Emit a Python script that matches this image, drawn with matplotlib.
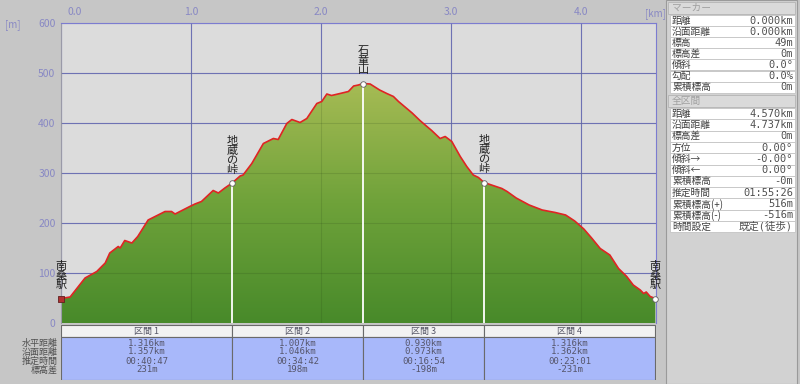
import numpy as np
import matplotlib.pyplot as plt
from matplotlib.colors import LinearSegmentedColormap, Normalize
from matplotlib.patches import Rectangle
from matplotlib.transforms import blended_transform_factory, ScaledTranslation

plt.rcParams['font.family'] = ['Noto Sans CJK JP', 'DejaVu Sans']

# elevation profile (horizontal distance km, elevation m)
dist_km = [0.00, 0.07, 0.185, 0.275, 0.34, 0.375, 0.44, 0.455, 0.49, 0.545,
           0.59, 0.67, 0.80, 0.85, 0.877, 0.99, 1.03, 1.08, 1.17, 1.21,
           1.26, 1.316, 1.377, 1.40, 1.467, 1.556, 1.633, 1.67, 1.736, 1.775,
           1.838, 1.89, 1.967, 2.005, 2.044, 2.08, 2.146, 2.21, 2.25, 2.287,
           2.323, 2.377, 2.45, 2.505, 2.556, 2.595, 2.70, 2.76, 2.80, 2.85,
           2.915, 2.954, 3.005, 3.07, 3.12, 3.17, 3.21, 3.253, 3.31, 3.39,
           3.43, 3.50, 3.60, 3.70, 3.80, 3.88, 3.95, 4.02, 4.08, 4.146,
           4.22, 4.287, 4.35, 4.40, 4.454, 4.48, 4.50, 4.53, 4.57]
elev_m = [49, 52, 90, 103, 120, 140, 153, 150, 165, 160,
          173, 206, 223, 223, 218, 233, 238, 243, 265, 260,
          270, 280, 294, 296, 319, 359, 369, 367, 399, 407,
          401, 409, 439, 443, 458, 455, 459, 463, 474, 476,
          479, 478, 466, 459, 453, 443, 420, 405, 396, 385,
          369, 373, 363, 333, 313, 296, 291, 281, 276, 269,
          263, 250, 236, 226, 221, 216, 204, 188, 170, 149,
          136, 109, 93, 76, 66, 59, 62, 53, 49]

point_km = [0.0, 1.316, 2.323, 3.253, 4.570]
point_names = ['南桑駅', '地蔵の峠', '石童山', '地蔵の峠', '南桑駅']

seg_names = ['区間 1', '区間 2', '区間 3', '区間 4']
seg_horiz = ['1.316km', '1.007km', '0.930km', '1.316km']
seg_surface = ['1.357km', '1.046km', '0.973km', '1.362km']
seg_time = ['00:40:47', '00:34:42', '00:16:54', '00:23:01']
seg_diff = ['231m', '198m', '-198m', '-231m']
row_labels = ['水平距離', '沿面距離', '推定時間', '標高差']

marker_labels = ['距離', '沿面距離', '標高', '標高差', '傾斜', '勾配', '累積標高']
marker_values = ['0.000km', '0.000km', '49m', '0m', '0.0°', '0.0%', '0m']
total_labels = ['距離', '沿面距離', '標高差', '方位', '傾斜→', '傾斜←', '累積標高',
                '推定時間', '累積標高(+)', '累積標高(-)', '時間設定']
total_values = ['4.570km', '4.737km', '0m', '0.00°', '-0.00°', '0.00°', '-0m',
                '01:55:26', '516m', '-516m', '既定(徒歩)']

xmax = 4.575
grid_col = '#7c7cd0'
tick_col = '#8888c4'

fig = plt.figure(figsize=(8, 3.84), dpi=100, facecolor='#c6c6c6')

# main profile
ax = fig.add_axes([61/800, (384-323)/384, 595/800, 300/384])
ax.set_facecolor('#dcdcdc')
ax.set_xlim(0, xmax)
ax.set_ylim(0, 600)
ax.set_axisbelow(True)
ax.grid(color=grid_col, lw=0.8)
ax.xaxis.tick_top()
ax.set_xticks([0, 1, 2, 3, 4])
ax.set_xticklabels(['0.0', '1.0', '2.0', '3.0', '4.0'])
ax.set_yticks(range(0, 601, 100))
ax.tick_params(length=0, colors=tick_col, labelsize=7.5, pad=4)
lab0 = ax.get_xticklabels()[0]
lab0.set_horizontalalignment('left')
lab0.set_transform(lab0.get_transform() + ScaledTranslation(5/72, 0, fig.dpi_scale_trans))
for s in ax.spines.values():
    s.set_color(grid_col)
ax.spines['left'].set_color('#9a9aa8')
ax.spines['bottom'].set_visible(False)

cmap = LinearSegmentedColormap.from_list('g', ['#488a2a', '#6fa23a', '#a6bb54'])
poly = ax.fill_between(dist_km, elev_m, 0, color='none', lw=0)
levels = np.linspace(0, 600, 400).reshape(-1, 1)
img = ax.imshow(levels, extent=[0, xmax, 0, 600], origin='lower', aspect='auto',
                cmap=cmap, norm=Normalize(0, 480), zorder=2)
img.set_clip_path(poly.get_paths()[0], transform=ax.transData)
ax.set_xlim(0, xmax)
ax.set_ylim(0, 600)

# faint grid over the fill
ax.hlines(range(100, 600, 100), 0, xmax, color='#203a10', lw=0.8, alpha=0.15, zorder=3)
ax.vlines([1, 2, 3, 4], 0, 600, color='#203a10', lw=0.8, alpha=0.15, zorder=3)

ax.plot(dist_km, elev_m, color='#e02424', lw=1.2, zorder=5)

marker_elev = np.interp(point_km, dist_km, elev_m)
ax.vlines(point_km[1:4], 0, marker_elev[1:4], color='white', lw=1.3, zorder=4)
ax.scatter(point_km[1:], marker_elev[1:], s=16, facecolor='white', edgecolor='#606060',
           lw=0.6, zorder=6, clip_on=False)
ax.scatter(point_km[:1], marker_elev[:1], s=14, marker='s', facecolor='#b03030',
           edgecolor='#602020', lw=0.6, zorder=6, clip_on=False)
for km, el, name in zip(point_km, marker_elev, point_names):
    ax.annotate('\n'.join(name), (km, el), xytext=(0, 6), textcoords='offset points',
                ha='center', va='bottom', fontsize=8, linespacing=0.95,
                color='#202020', zorder=7)

fig.text(13/800, 1 - 25/384, '[m]', color=tick_col, fontsize=7, ha='center', va='center')
fig.text(655/800, 1 - 14/384, '[km]', color=tick_col, fontsize=7, ha='center', va='center')

# section table
tab = fig.add_axes([61/800, 4/384, 595/800, 56/384])
tab.set_xlim(0, xmax)
tab.set_ylim(56, 0)
tab.axis('off')
seg_start = point_km[:-1]
seg_end = point_km[1:]
for i in range(len(seg_names)):
    s, e = seg_start[i], seg_end[i]
    tab.add_patch(Rectangle((s, 0.5), e - s, 12.5, fc='#f2f2f2', ec='#6a6a6a', lw=0.8))
    tab.add_patch(Rectangle((s, 13), e - s, 42.5, fc='#a8b8fa', ec='#6a6a6a', lw=0.8))
    xm = (s + e) / 2
    tab.text(xm, 7, seg_names[i], ha='center', va='center', fontsize=6.5, color='#555566')
    for y, v in zip([19, 28, 37, 46], [seg_horiz[i], seg_surface[i], seg_time[i], seg_diff[i]]):
        tab.text(xm, y, v, ha='center', va='center', fontsize=6.5, color='#55556a',
                 family=['DejaVu Sans Mono'])
trans = blended_transform_factory(tab.transAxes, tab.transData)
for y, lab in zip([19, 28, 37, 46], row_labels):
    tab.text(-0.006, y, lab, transform=trans, ha='right', va='center', fontsize=6.5,
             color='#505050')

# info panel on the right
pan = fig.add_axes([0, 0, 1, 1], zorder=-5)
pan.set_xlim(0, 800)
pan.set_ylim(384, 0)
pan.axis('off')
pan.add_patch(Rectangle((666, 0), 131, 384, fc='#d2d2d2', ec='#9a9a9a', lw=0.8))

def panel_block(title, y0, labels, values, row_h):
    pan.add_patch(Rectangle((668, y0), 127, 12, fc='#dadada', ec='#b4b4b4', lw=0.6))
    pan.text(672, y0 + 6, title, ha='left', va='center', fontsize=7, color='#a0a0a0')
    y = y0 + 13
    for lab, val in zip(labels, values):
        pan.add_patch(Rectangle((670, y), 125, row_h, fc='white', ec='#c4c4c4', lw=0.6))
        pan.text(672, y + row_h / 2, lab, ha='left', va='center', fontsize=7, color='#404040')
        pan.text(793, y + row_h / 2, val, ha='right', va='center', fontsize=7.5,
                 color='#505050', family=['DejaVu Sans Mono', 'Noto Sans CJK JP'])
        y += row_h

panel_block('マーカー', 2, marker_labels, marker_values, 11.1)
panel_block('全区間', 95, total_labels, total_values, 11.3)

fig.savefig('out.png', dpi=100, facecolor=fig.get_facecolor())
